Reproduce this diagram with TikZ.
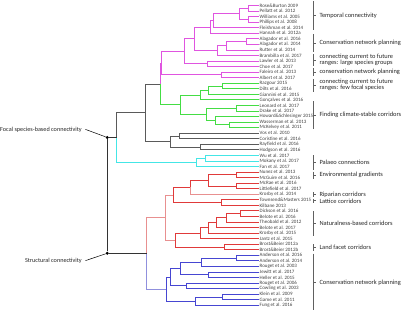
\documentclass[tikz,border=0pt]{standalone}
\usepackage{fontspec}
\setmainfont{Carlito}
\definecolor{pk}{HTML}{E055E0}
\definecolor{gn}{HTML}{44DD44}
\definecolor{gy}{HTML}{5A5A5A}
\definecolor{cy}{HTML}{44E6E6}
\definecolor{rd}{HTML}{E03A3A}
\definecolor{lrd}{HTML}{E89090}
\definecolor{bl}{HTML}{4646D2}
\definecolor{lbl}{HTML}{9090DD}
\definecolor{txt}{HTML}{404040}
\definecolor{brk}{HTML}{606060}
\begin{document}
\begin{tikzpicture}[x=1pt,y=-1pt,
  leaf/.style={anchor=west,inner sep=1pt,font=\fontsize{5}{5}\selectfont,text=txt},
  grp/.style={anchor=west,inner sep=0pt,font=\fontsize{6.4}{6.5}\selectfont,align=left,text=black!85},
  ann/.style={anchor=east,inner sep=0pt,font=\fontsize{6.2}{6.4}\selectfont,text=black!85},
  brline/.style={line width=0.5pt,draw=brk},
  ln/.style={line width=0.75pt},
  dot/.style={circle,fill=black,inner sep=0pt,minimum size=3.2pt}]
\useasboundingbox (0,0) rectangle (403,310);
% ---- leaves ----
\node[leaf] (l1) at (258.5,5.5) {Rose\&Burton 2009};
\node[leaf] (l2) at (258.5,11.05) {Pellatt et al. 2012};
\node[leaf] (l3) at (258.5,16.6) {Williams et al. 2005};
\node[leaf] (l4) at (258.5,22.15) {Phillips et al. 2008};
\node[leaf] (l5) at (258.5,27.7) {Fleishman et al. 2014};
\node[leaf] (l6) at (258.5,33.25) {Hannah et al. 2012a};
\node[leaf] (l7) at (258.5,38.8) {Alagador et al. 2016};
\node[leaf] (l8) at (258.5,44.35) {Alagador et al. 2014};
\node[leaf] (l9) at (258.5,49.9) {Rutter et al. 2014};
\node[leaf] (l10) at (258.5,55.45) {Brambilla et al. 2017};
\node[leaf] (l11) at (258.5,61.0) {Lawler et al. 2013};
\node[leaf] (l12) at (258.5,66.55) {Choe et al. 2017};
\node[leaf] (l13) at (258.5,72.1) {Faleiro et al. 2013};
\node[leaf] (l14) at (258.5,77.65) {Albert et al. 2017};
\node[leaf] (l15) at (258.5,83.2) {Razgour 2015};
\node[leaf] (l16) at (258.5,88.75) {Dilts et al. 2016};
\node[leaf] (l17) at (258.5,94.3) {Giannini et al. 2015};
\node[leaf] (l18) at (258.5,99.85) {Gonçalves et al. 2016};
\node[leaf] (l19) at (258.5,105.4) {Leonard et al. 2017};
\node[leaf] (l20) at (258.5,110.95) {Drake et al. 2017};
\node[leaf] (l21) at (258.5,116.5) {Howard\&Schlesinger 2015};
\node[leaf] (l22) at (258.5,122.05) {Wasserman et al. 2013};
\node[leaf] (l23) at (258.5,127.6) {McKelvey et al. 2011};
\node[leaf] (l24) at (258.5,133.15) {Vos et al. 2010};
\node[leaf] (l25) at (258.5,138.7) {Coristine et al. 2016};
\node[leaf] (l26) at (258.5,144.25) {Rayfield et al. 2016};
\node[leaf] (l27) at (258.5,149.8) {Hodgson et al. 2016};
\node[leaf] (l28) at (258.5,155.35) {Wu et al. 2017};
\node[leaf] (l29) at (258.5,160.9) {Mokany et al. 2017};
\node[leaf] (l30) at (258.5,166.45) {Fan et al. 2017};
\node[leaf] (l31) at (258.5,172.0) {Nunez et al. 2013};
\node[leaf] (l32) at (258.5,177.55) {McGuire et al. 2016};
\node[leaf] (l33) at (258.5,183.1) {McRae et al. 2016};
\node[leaf] (l34) at (258.5,188.65) {Littlefield et al. 2017};
\node[leaf] (l35) at (258.5,194.2) {Krosby et al. 2014};
\node[leaf] (l36) at (258.5,199.75) {Townsend\&Masters 2015};
\node[leaf] (l37) at (258.5,205.3) {Kilbane 2013};
\node[leaf] (l38) at (258.5,210.85) {Dickson et al. 2016};
\node[leaf] (l39) at (258.5,216.4) {Belote et al. 2016};
\node[leaf] (l40) at (258.5,221.95) {Theobald et al. 2012};
\node[leaf] (l41) at (258.5,227.5) {Belote et al. 2017};
\node[leaf] (l42) at (258.5,233.05) {Krosby et al. 2015};
\node[leaf] (l43) at (258.5,238.6) {Jantz et al. 2015};
\node[leaf] (l44) at (258.5,244.15) {Brost\&Beier 2012a};
\node[leaf] (l45) at (258.5,249.7) {Brost\&Beier 2012b};
\node[leaf] (l46) at (258.5,255.25) {Anderson et al. 2016};
\node[leaf] (l47) at (258.5,260.8) {Anderson et al. 2014};
\node[leaf] (l48) at (258.5,266.35) {Rouget et al. 2003};
\node[leaf] (l49) at (258.5,271.9) {Jewitt et al. 2017};
\node[leaf] (l50) at (258.5,277.45) {Heller et al. 2015};
\node[leaf] (l51) at (258.5,283.0) {Rouget et al. 2006};
\node[leaf] (l52) at (258.5,288.55) {Cowling et al. 2003};
\node[leaf] (l53) at (258.5,294.1) {Klein et al. 2009};
\node[leaf] (l54) at (258.5,299.65) {Game et al. 2011};
\node[leaf] (l55) at (258.5,305.2) {Fung et al. 2016};
% ---- internal nodes ----
\coordinate (p1) at (248.3,8.275);
\coordinate (p2) at (248.3,19.375);
\coordinate (p3) at (239.3,13.825);
\coordinate (p4) at (213.3,20.76);
\coordinate (p5) at (210.7,27.01);
\coordinate (p6) at (246.7,41.575);
\coordinate (p7) at (226.7,45.74);
\coordinate (p8) at (217.7,50.59);
\coordinate (p9) at (194.3,38.80);
\coordinate (p10) at (207.3,63.775);
\coordinate (p11) at (184.3,51.29);
\coordinate (p12) at (221.7,74.875);
\coordinate (p13) at (161.5,63.08);
\coordinate (g1) at (222.7,85.975);
\coordinate (g2) at (208.3,90.14);
\coordinate (g3) at (200,94.99);
\coordinate (g4) at (236,108.175);
\coordinate (g5) at (229,124.825);
\coordinate (g6) at (215,120.66);
\coordinate (g7) at (206.7,114.42);
\coordinate (g8) at (180.7,104.70);
\coordinate (G) at (160,83.89);
\coordinate (k1) at (179.3,135.925);
\coordinate (k2) at (200,147.025);
\coordinate (k3) at (170.7,141.475);
\coordinate (H) at (145.7,112.68);
\coordinate (c1) at (205,158.125);
\coordinate (c2) at (196.7,162.29);
\coordinate (F) at (116.7,137.485);
\coordinate (r1) at (236,174.775);
\coordinate (r2) at (236,185.875);
\coordinate (r3) at (208.3,180.325);
\coordinate (r4) at (190,187.26);
\coordinate (r5) at (221.7,202.525);
\coordinate (r6) at (173.3,194.89);
\coordinate (r7) at (240,213.625);
\coordinate (r8) at (226,217.79);
\coordinate (r9) at (216,222.64);
\coordinate (r10) at (208,227.85);
\coordinate (r11) at (200,233.22);
\coordinate (r12) at (224,246.925);
\coordinate (r13) at (175,240.07);
\coordinate (r14) at (165,217.48);
\coordinate (b1) at (236,258.025);
\coordinate (b2) at (201.7,262.19);
\coordinate (b3) at (208.3,274.675);
\coordinate (b4) at (180.7,268.43);
\coordinate (b5) at (186,285.775);
\coordinate (b6) at (170.7,277.10);
\coordinate (b7) at (222.7,296.875);
\coordinate (b8) at (195,301.04);
\coordinate (b9) at (166,289.07);
\coordinate (S) at (146.7,253.27);
% ---- connectors: pink ----
\begin{scope}[ln,pk]
\draw (p1) |- (l1.west); \draw (p1) |- (l2.west);
\draw (p2) |- (l3.west); \draw (p2) |- (l4.west);
\draw (p3) |- (p1); \draw (p3) |- (p2);
\draw (p4) |- (p3); \draw (p4) |- (l5.west);
\draw (p5) |- (p4); \draw (p5) |- (l6.west);
\draw (p6) |- (l7.west); \draw (p6) |- (l8.west);
\draw (p7) |- (p6); \draw (p7) |- (l9.west);
\draw (p8) |- (p7); \draw (p8) |- (l10.west);
\draw (p9) |- (p5); \draw (p9) |- (p8);
\draw (p10) |- (l11.west); \draw (p10) |- (l12.west);
\draw (p11) |- (p9); \draw (p11) |- (p10);
\draw (p12) |- (l13.west); \draw (p12) |- (l14.west);
\draw (p13) |- (p11); \draw (p13) |- (p12);
\draw (G) |- (p13);
\end{scope}
% ---- green ----
\begin{scope}[ln,gn]
\draw (g1) |- (l15.west); \draw (g1) |- (l16.west);
\draw (g2) |- (g1); \draw (g2) |- (l17.west);
\draw (g3) |- (g2); \draw (g3) |- (l18.west);
\draw (g4) |- (l19.west); \draw (g4) |- (l20.west);
\draw (g5) |- (l22.west); \draw (g5) |- (l23.west);
\draw (g6) |- (l21.west); \draw (g6) |- (g5);
\draw (g7) |- (g4); \draw (g7) |- (g6);
\draw (g8) |- (g3); \draw (g8) |- (g7);
\draw (G) |- (g8);
\end{scope}
% ---- grey ----
\begin{scope}[ln,gy]
\draw (k1) |- (l24.west); \draw (k1) |- (l25.west);
\draw (k2) |- (l26.west); \draw (k2) |- (l27.west);
\draw (k3) |- (k1); \draw (k3) |- (k2);
\draw (H) |- (G); \draw (H) |- (k3);
\draw (F) |- (H);
\end{scope}
% ---- cyan ----
\begin{scope}[ln,cy]
\draw (c1) |- (l28.west); \draw (c1) |- (l29.west);
\draw (c2) |- (c1); \draw (c2) |- (l30.west);
\draw (F) |- (c2);
\end{scope}
% ---- red ----
\begin{scope}[ln,rd]
\draw (r1) |- (l31.west); \draw (r1) |- (l32.west);
\draw (r2) |- (l33.west); \draw (r2) |- (l34.west);
\draw (r3) |- (r1); \draw (r3) |- (r2);
\draw (r4) |- (r3); \draw[lrd] (r4) |- (l35.west);
\draw (r5) |- (l36.west); \draw (r5) |- (l37.west);
\draw (r6) |- (r4); \draw (r6) |- (r5);
\draw (r7) |- (l38.west); \draw (r7) |- (l39.west);
\draw (r8) |- (r7); \draw (r8) |- (l40.west);
\draw (r9) |- (r8); \draw (r9) |- (l41.west);
\draw (r10) |- (r9); \draw (r10) |- (l42.west);
\draw (r11) |- (r10); \draw (r11) |- (l43.west);
\draw (r12) |- (l44.west); \draw (r12) |- (l45.west);
\draw (r13) |- (r11); \draw (r13) |- (r12);
\draw[lrd] (r14) |- (r6); \draw[lrd] (r14) |- (r13);
\draw[lrd] (S) |- (r14);
\end{scope}
% ---- blue ----
\begin{scope}[ln,bl]
\draw (b1) |- (l46.west); \draw (b1) |- (l47.west);
\draw (b2) |- (b1); \draw (b2) |- (l48.west);
\draw (b3) |- (l49.west); \draw (b3) |- (l50.west);
\draw (b4) |- (b2); \draw (b4) |- (b3);
\draw (b5) |- (l51.west); \draw (b5) |- (l52.west);
\draw (b6) |- (b4); \draw (b6) |- (b5);
\draw (b7) |- (l53.west); \draw (b7) |- (l54.west);
\draw (b8) |- (b7); \draw (b8) |- (l55.west);
\draw (b9) |- (b6); \draw (b9) |- (b8);
\draw[lbl] (S) |- (b9);
\end{scope}
% ---- root ----
\node[dot] (fs) at (107.3,137.485) {};
\node[dot] (sc) at (107.3,253.27) {};
\draw[ln,black!80] (fs) -- (sc);
\draw[ln,black!80] (fs) -- (F);
\draw[ln,black!80] (sc) -- (S);
\node[ann] (fl) at (82,129.4) {Focal species-based connectivity};
\node[ann] (sl) at (82,260.6) {Structural connectivity};
\draw[line width=0.5pt] ([xshift=3.5pt]fl.east) -- (fs);
\draw[line width=0.5pt] ([xshift=3.5pt]sl.east) -- (sc);
% ---- brackets ----
\foreach \ya/\yb/\ym [count=\i] in {1/30/15.5, 34/52/43, 54/66/60, 68/76/72, 79/92/85, 101/129/115, 155/170/162.5, 171.5/178.5/175, 192/197/194.5, 198.5/203/200.7, 211/236/223, 244/251/247.5, 253.5/309.5/282.5}{
  \draw[brline] (313.3,\ya) -- (313.3,\yb);
  \draw[brline] (313.3,\ym) -- (316,\ym);
}
\node[grp] (t1) at (319.3,15.5) {Temporal connectivity};
\node[grp] (t2) at (319.3,43) {Conservation network planning};
\node[grp] (t3) at (319.3,60) {connecting current to future\\ranges: large species groups};
\node[grp] (t4) at (319.3,72) {conservation network planning};
\node[grp] (t5) at (319.3,85) {connecting current to future\\ranges: few focal species};
\node[grp] (t6) at (319.3,115) {Finding climate-stable corridors};
\node[grp] (t7) at (319.3,162.5) {Palaeo connections};
\node[grp] (t8) at (319.3,175) {Environmental gradients};
\node[grp] (t9) at (319.3,194.3) {Riparian corridors};
\node[grp] (t10) at (319.3,200.9) {Lattice corridors};
\node[grp] (t11) at (319.3,223) {Naturalness-based corridors};
\node[grp] (t12) at (319.3,247.5) {Land facet corridors};
\node[grp] (t13) at (319.3,282.5) {Conservation network planning};
\end{tikzpicture}
\end{document}
